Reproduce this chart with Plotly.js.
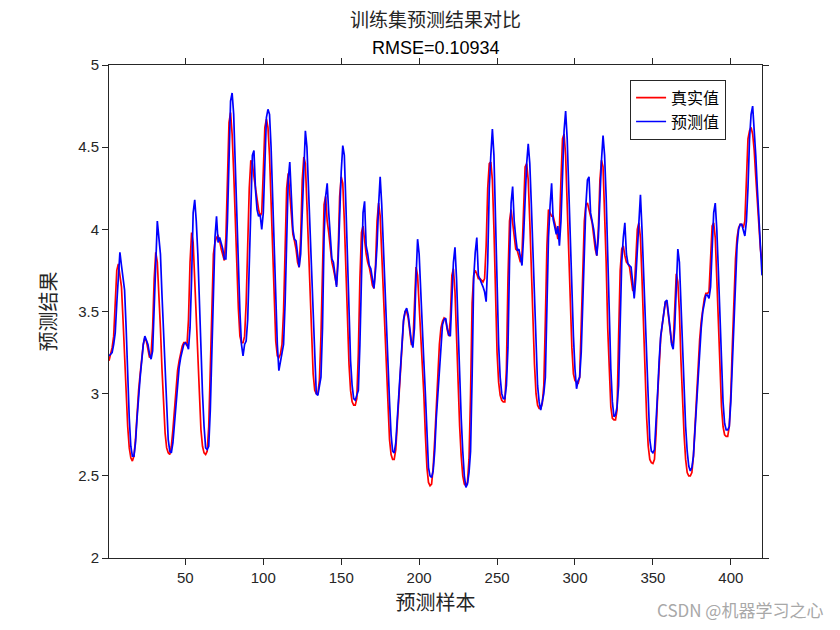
<!DOCTYPE html>
<html>
<head>
<meta charset="utf-8">
<script src="https://cdn.plot.ly/plotly-3.0.1.min.js"></script>
<style>html,body{margin:0;padding:0;background:#fff;}#chart{width:840px;height:630px;}</style>
</head>
<body>
<div id="chart"></div>
<script>
const titleLine1 = "训练集预测结果对比";
const titleLine2 = "RMSE=0.10934";
const seriesNames = ["真实值", "预测值"];
const xTickVals = [50, 100, 150, 200, 250, 300, 350, 400];
const yTickVals = [2, 2.5, 3, 3.5, 4, 4.5, 5];

const trueValues = [
3.20,3.24,3.28,3.35,3.55,3.75,3.79,3.72,3.65,3.45,
3.20,2.98,2.80,2.67,2.61,2.59,2.62,2.72,2.88,3.02,
3.12,3.22,3.30,3.34,3.32,3.27,3.22,3.24,3.40,3.70,
3.86,3.80,3.62,3.40,3.15,2.92,2.76,2.67,2.64,2.63,
2.68,2.78,2.92,3.04,3.14,3.20,3.25,3.29,3.31,3.31,
3.29,3.45,3.80,3.98,3.92,3.70,3.45,3.20,2.95,2.78,
2.68,2.64,2.63,2.65,2.80,3.20,3.55,3.85,3.92,3.95,
3.96,3.93,3.88,3.84,3.81,3.95,4.30,4.65,4.71,4.58,
4.35,4.05,3.78,3.52,3.35,3.31,3.31,3.35,3.55,3.95,
4.25,4.42,4.40,4.32,4.25,4.18,4.12,4.08,4.10,4.35,
4.62,4.67,4.62,4.45,4.15,3.82,3.50,3.32,3.23,3.22,
3.24,3.30,3.50,3.90,4.25,4.34,4.20,4.05,3.97,3.93,
3.88,3.80,3.77,3.95,4.30,4.44,4.40,4.15,3.90,3.60,
3.35,3.12,3.02,3.00,3.00,3.08,3.35,3.85,4.15,4.20,
4.05,3.98,3.88,3.80,3.76,3.70,3.66,3.85,4.20,4.32,
4.28,4.05,3.75,3.42,3.18,3.02,2.95,2.93,2.93,2.97,
3.25,3.70,3.98,4.02,3.92,3.85,3.80,3.77,3.72,3.66,
3.64,3.78,4.05,4.16,4.08,3.85,3.58,3.32,3.10,2.90,
2.72,2.63,2.60,2.60,2.66,2.82,2.98,3.14,3.30,3.44,
3.50,3.50,3.46,3.38,3.30,3.30,3.60,3.77,3.72,3.55,
3.35,3.20,3.00,2.75,2.55,2.46,2.44,2.45,2.55,2.72,
2.92,3.12,3.30,3.40,3.44,3.46,3.45,3.39,3.35,3.45,
3.72,3.76,3.62,3.35,3.05,2.80,2.62,2.50,2.45,2.44,
2.46,2.60,3.00,3.55,3.72,3.75,3.73,3.70,3.70,3.69,
3.68,3.70,3.90,4.25,4.40,4.41,4.30,4.00,3.55,3.25,
3.07,2.99,2.96,2.95,2.95,3.15,3.70,4.05,4.12,4.05,
3.95,3.88,3.87,3.84,3.80,3.85,4.15,4.38,4.40,4.30,
4.05,3.75,3.45,3.18,3.00,2.93,2.91,2.91,2.94,3.05,
3.45,3.90,4.12,4.10,4.08,4.08,4.04,4.00,3.94,4.00,
4.30,4.55,4.58,4.45,4.15,3.82,3.50,3.28,3.12,3.08,
3.07,3.06,3.10,3.40,3.80,4.05,4.15,4.16,4.12,4.08,
4.04,3.96,3.88,3.84,4.00,4.30,4.42,4.38,4.12,3.80,
3.40,3.10,2.92,2.85,2.84,2.84,2.90,3.35,3.75,3.88,
3.90,3.84,3.80,3.79,3.77,3.70,3.63,3.62,3.80,4.00,
4.04,3.95,3.70,3.40,3.10,2.85,2.68,2.60,2.58,2.575,
2.60,2.75,2.98,3.18,3.34,3.42,3.50,3.56,3.55,3.47,
3.38,3.31,3.30,3.55,3.73,3.68,3.50,3.20,2.95,2.75,
2.60,2.52,2.50,2.50,2.52,2.62,2.80,3.00,3.18,3.33,
3.44,3.52,3.58,3.61,3.61,3.62,3.80,4.02,4.04,3.95,
3.70,3.40,3.12,2.92,2.80,2.75,2.74,2.74,2.80,3.00,
3.30,3.60,3.82,3.95,4.01,4.03,4.03,4.01,4.05,4.30,
4.55,4.60,4.62,4.58,4.48,4.32,4.15,4.00,3.88,3.80
];

const predictedValues = [
3.23,3.24,3.25,3.30,3.37,3.55,3.75,3.86,3.78,3.70,
3.63,3.40,3.10,2.85,2.68,2.62,2.62,2.70,2.85,3.00,
3.10,3.20,3.30,3.35,3.33,3.30,3.24,3.21,3.26,3.50,
3.85,4.05,3.95,3.85,3.60,3.35,3.10,2.88,2.72,2.65,
2.64,2.70,2.82,2.96,3.07,3.16,3.22,3.26,3.30,3.31,
3.30,3.27,3.40,3.70,4.10,4.18,4.05,3.85,3.55,3.25,
3.00,2.80,2.67,2.66,2.68,2.90,3.30,3.65,3.95,4.08,
3.92,3.95,3.92,3.88,3.82,3.82,4.05,4.50,4.78,4.83,
4.70,4.40,4.05,3.78,3.50,3.30,3.23,3.30,3.32,3.45,
3.80,4.20,4.45,4.48,4.24,4.12,4.08,4.09,4.00,4.10,
4.40,4.68,4.73,4.70,4.50,4.20,3.85,3.50,3.30,3.14,
3.20,3.25,3.30,3.55,3.90,4.30,4.41,4.15,4.00,3.94,
3.93,3.85,3.77,3.85,4.10,4.40,4.60,4.50,4.25,3.95,
3.65,3.40,3.15,3.00,2.99,3.05,3.10,3.40,3.95,4.20,
4.28,4.10,3.98,3.82,3.80,3.72,3.65,3.80,4.10,4.35,
4.51,4.45,4.15,3.85,3.45,3.20,3.05,2.97,2.96,2.99,
3.02,3.30,3.80,4.10,4.17,3.90,3.85,3.78,3.76,3.70,
3.64,3.75,3.90,4.15,4.32,4.15,3.90,3.60,3.35,3.15,
2.95,2.75,2.65,2.64,2.70,2.85,3.00,3.15,3.30,3.45,
3.50,3.52,3.48,3.40,3.32,3.28,3.40,3.70,3.94,3.85,
3.60,3.35,3.20,3.00,2.75,2.55,2.50,2.49,2.53,2.65,
2.85,3.00,3.18,3.33,3.42,3.45,3.46,3.40,3.36,3.35,
3.55,3.80,3.89,3.70,3.40,3.10,2.85,2.65,2.50,2.43,
2.45,2.52,2.65,3.10,3.70,3.86,3.95,3.72,3.70,3.68,
3.65,3.62,3.56,3.80,4.25,4.45,4.61,4.45,4.10,3.60,
3.30,3.10,3.00,2.97,2.97,3.05,3.28,3.80,4.16,4.26,
4.05,3.95,3.87,3.88,3.83,3.78,3.95,4.20,4.40,4.52,
4.40,4.15,3.85,3.55,3.25,3.05,2.95,2.90,2.95,3.00,
3.10,3.50,3.95,4.14,4.28,4.06,4.02,3.97,4.02,3.90,
4.05,4.30,4.60,4.72,4.55,4.25,3.90,3.60,3.35,3.15,
3.03,3.08,3.10,3.25,3.50,3.85,4.15,4.30,4.32,4.10,
4.05,4.00,3.92,3.84,3.95,4.20,4.42,4.57,4.45,4.20,
3.85,3.45,3.15,2.95,2.86,2.87,2.92,3.05,3.45,3.80,
3.95,4.04,3.85,3.79,3.78,3.77,3.68,3.58,3.70,3.90,
4.10,4.21,4.00,3.75,3.45,3.15,2.90,2.72,2.65,2.64,
2.66,2.80,3.00,3.20,3.35,3.42,3.50,3.56,3.57,3.50,
3.40,3.30,3.27,3.40,3.65,3.88,3.80,3.55,3.25,3.00,
2.80,2.65,2.56,2.53,2.55,2.62,2.78,2.95,3.15,3.30,
3.40,3.50,3.56,3.60,3.60,3.58,3.65,3.90,4.10,4.16,
4.00,3.75,3.45,3.15,2.95,2.82,2.78,2.78,2.80,2.95,
3.20,3.50,3.75,3.90,4.00,4.03,4.03,4.00,3.96,4.05,
4.25,4.55,4.70,4.75,4.62,4.45,4.25,4.05,3.88,3.72
];

const sampleIndex = trueValues.map((_, i) => i + 1);

const axisColor = "#262626";
const latinFont = "Liberation Sans, Arial, sans-serif";
const cjkFont = "Noto Sans CJK SC, sans-serif";
const tickFont = {family: latinFont, size: 15, color: axisColor};

const traces = [
  {x: sampleIndex, y: trueValues, name: seriesNames[0], type: "scatter", mode: "lines",
   line: {color: "#ff0000", width: 1.7}},
  {x: sampleIndex, y: predictedValues, name: seriesNames[1], type: "scatter", mode: "lines",
   line: {color: "#0000ff", width: 1.7}}
];

const layout = {
  width: 840, height: 630,
  paper_bgcolor: "#ffffff", plot_bgcolor: "#ffffff",
  margin: {l: 109, r: 78, t: 65, b: 72},
  showlegend: true,
  xaxis: {
    range: [1, sampleIndex.length], tickvals: xTickVals,
    showgrid: false, zeroline: false,
    showline: true, linecolor: axisColor, linewidth: 1, mirror: "ticks",
    ticks: "outside", ticklen: 6, tickcolor: axisColor, tickwidth: 1,
    tickfont: tickFont,
    title: {text: "预测样本", font: {family: cjkFont, size: 20, color: axisColor}, standoff: 10}
  },
  yaxis: {
    range: [2, 5], tickvals: yTickVals,
    showgrid: false, zeroline: false,
    showline: true, linecolor: axisColor, linewidth: 1, mirror: "ticks",
    ticks: "outside", ticklen: 6, tickcolor: axisColor, tickwidth: 1,
    tickfont: tickFont,
    title: {text: "预测结果", font: {family: cjkFont, size: 20, color: axisColor}, standoff: 16}
  },
  legend: {
    x: 0.945, y: 0.97, xanchor: "right", yanchor: "top",
    bgcolor: "#ffffff", bordercolor: axisColor, borderwidth: 1,
    font: {family: cjkFont, size: 16, color: "#000000"},
    tracegroupgap: 0
  },
  annotations: [
    {text: titleLine1, xref: "paper", yref: "paper", x: 0.5, y: 1, yshift: 47,
     xanchor: "center", yanchor: "middle", showarrow: false,
     font: {family: cjkFont, size: 19, color: axisColor}},
    {text: titleLine2, xref: "paper", yref: "paper", x: 0.5, y: 1, yshift: 17,
     xanchor: "center", yanchor: "middle", showarrow: false,
     font: {family: latinFont, size: 18, color: "#000000"}},
    {text: "CSDN @机器学习之心", xref: "paper", yref: "paper",
     x: 1.0965, y: -0.105, xanchor: "right", yanchor: "middle", showarrow: false,
     font: {family: cjkFont, size: 17, color: "#a8a8a8"}}
  ]
};

Plotly.newPlot("chart", traces, layout, {displayModeBar: false, staticPlot: true});
</script>
</body>
</html>
